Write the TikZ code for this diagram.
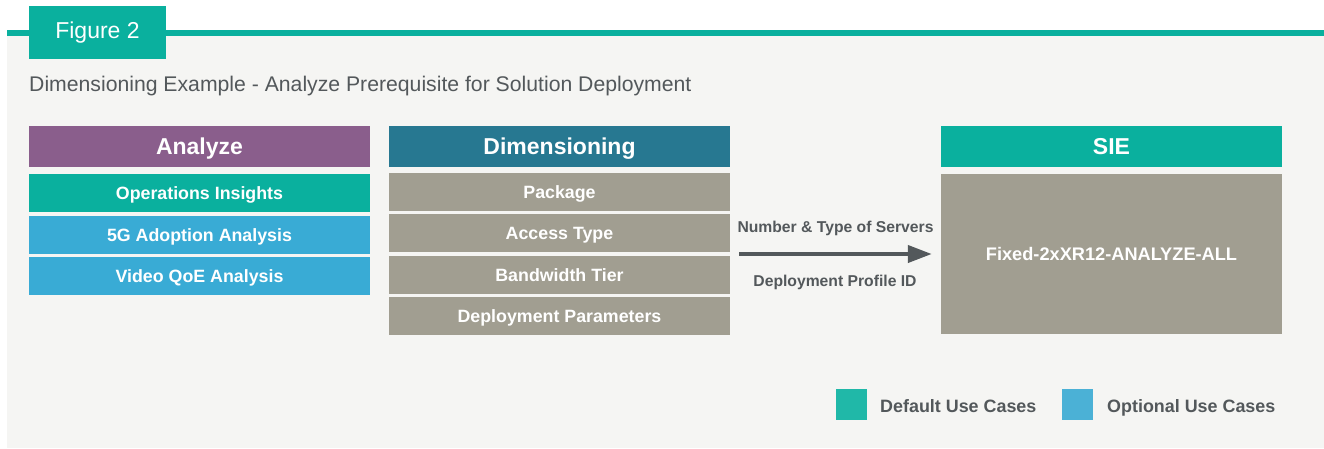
\documentclass[tikz,border=0pt]{standalone}
\usepackage{fontspec}
\setmainfont{Liberation Sans}
\usepackage{xcolor}
\usepackage{tikz}
\usetikzlibrary{calc,arrows.meta}
\definecolor{panel}{HTML}{F5F5F3}
\definecolor{teal}{HTML}{0AB09E}
\definecolor{plum}{HTML}{8A5E8C}
\definecolor{petrol}{HTML}{277891}
\definecolor{sky}{HTML}{39ABD5}
\definecolor{stone}{HTML}{A19E91}
\definecolor{ink}{HTML}{53585B}
\definecolor{legteal}{HTML}{20B8A8}
\definecolor{legsky}{HTML}{4BB1D6}
\tikzset{
  head/.style={minimum width=341pt, minimum height=41pt, inner sep=0pt,
    text=white, font=\bfseries\fontsize{23}{26}\selectfont, text height=16.5pt, text depth=0pt},
  row/.style={minimum width=341pt, minimum height=37.7pt, inner sep=0pt,
    text=white, font=\bfseries\fontsize{17.8}{20}\selectfont, text height=12.7pt, text depth=0pt},
  flow/.style={draw=ink, line width=4pt, -{Triangle[length=24pt,width=17pt]}},
  labi/.style={text=ink, inner sep=0pt, font=\bfseries\fontsize{15.7}{18}\selectfont,
    text height=11.3pt, text depth=0pt},
  key/.style={minimum width=31pt, minimum height=31pt, inner sep=0pt},
  keytxt/.style={text=ink, inner sep=0pt, anchor=west, font=\bfseries\fontsize{17.9}{20}\selectfont,
    text height=12.8pt, text depth=0pt}
}
\begin{document}
\begin{tikzpicture}[x=1pt,y=-1pt]
  \useasboundingbox (0,0) rectangle (1324,448);
  % frame
  \fill[white] (0,0) rectangle (1324,448);
  \fill[panel] (7,35) rectangle (1324,448);
  \fill[teal] (7,30) rectangle (1324,36);
  \node[fill=teal, minimum width=137pt, minimum height=53pt, inner sep=0pt,
    text=white, font=\fontsize{23}{26}\selectfont] (tab) at (97.5,32.5) {Figure 2};
  \node[anchor=west, inner sep=0pt, text=ink, font=\fontsize{21.2}{24}\selectfont,
    text height=15.2pt, text depth=0pt]
    (title) at (29,83.5) {Dimensioning Example - Analyze Prerequisite for Solution Deployment};

  % Analyze column
  \node[head, fill=plum] (analyze) at (199.5,146) {Analyze};
  \node[row, fill=teal] (ops) at (199.5,192.8) {Operations Insights};
  \node[row, fill=sky] (adopt) at (199.5,235) {5G Adoption Analysis};
  \node[row, fill=sky] (qoe) at (199.5,276) {Video QoE Analysis};

  % Dimensioning column
  \node[head, fill=petrol] (dim) at (559.5,146) {Dimensioning};
  \node[row, fill=stone] (pkg) at (559.5,192) {Package};
  \node[row, fill=stone] (access) at (559.5,233) {Access Type};
  \node[row, fill=stone] (tier) at (559.5,275) {Bandwidth Tier};
  \node[row, fill=stone] (params) at (559.5,316) {Deployment Parameters};

  % SIE
  \node[head, fill=teal] (sie) at (1111.5,146) {SIE};
  \node[row, fill=stone, minimum height=160.5pt, font=\bfseries\fontsize{18.2}{20}\selectfont]
    (profile) at (1111.5,254) {Fixed-2xXR12-ANALYZE-ALL};

  \draw[flow, shorten <=9pt, shorten >=9pt] (access.east |- profile.west) -- (profile.west);
  \node[labi] (servers) at (835.5,226.5) {Number \& Type of Servers};
  \node[labi] (pid) at (835,280.5) {Deployment Profile ID};

  % legend
  \node[key, fill=legteal] (kdef) at (851.5,404.5) {};
  \node[keytxt] (tdef) at (880,406.5) {Default Use Cases};
  \node[key, fill=legsky] (kopt) at (1077.5,404.5) {};
  \node[keytxt] (topt) at (1107,406.5) {Optional Use Cases};
\end{tikzpicture}
\end{document}
